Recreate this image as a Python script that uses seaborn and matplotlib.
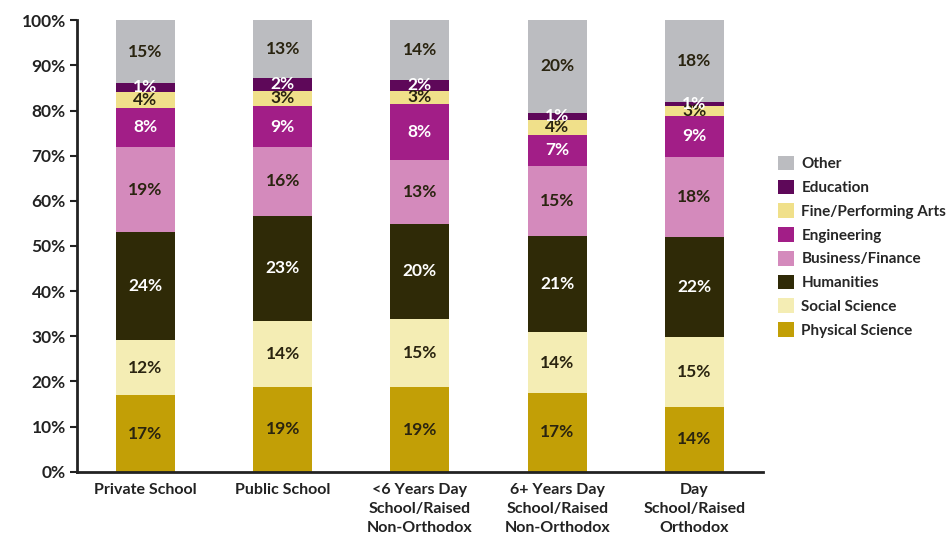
import numpy as np
import pandas as pd
import matplotlib
matplotlib.use("Agg")
import matplotlib.pyplot as plt
from matplotlib.patches import Patch
import seaborn as sns

# 1. --- Data ---
groups = ["Private School", "Public School",
          "<6 Years Day\nSchool/Raised\nNon-Orthodox",
          "6+ Years Day\nSchool/Raised\nNon-Orthodox",
          "Day\nSchool/Raised\nOrthodox"]
fields = ["Physical Science", "Social Science", "Humanities", "Business/Finance",
          "Engineering", "Fine/Performing Arts", "Education", "Other"]

# segment heights as drawn (percent), bottom to top
physical = [16.9, 18.8, 18.7, 17.4, 14.3]
social = [12.2, 14.6, 15.2, 13.5, 15.5]
humanities = [23.9, 23.3, 20.9, 21.4, 22.1]
business = [18.9, 15.2, 14.2, 15.4, 17.8]
engineering = [8.7, 9.1, 12.5, 6.9, 9.1]
fine_arts = [3.6, 3.4, 2.9, 3.3, 2.2]
education = [1.8, 2.9, 2.4, 1.6, 0.9]
other = [14.0, 12.7, 13.2, 20.5, 18.1]

# printed labels
physical_lbl = [17, 19, 19, 17, 14]
social_lbl = [12, 14, 15, 14, 15]
humanities_lbl = [24, 23, 20, 21, 22]
business_lbl = [19, 16, 13, 15, 18]
engineering_lbl = [8, 9, 8, 7, 9]
fine_arts_lbl = [4, 3, 3, 4, 3]
education_lbl = [1, 2, 2, 1, 1]
other_lbl = [15, 13, 14, 20, 18]

colors = ["#C29F06", "#F4EDB4", "#2F2A07", "#D48ABC",
          "#A21E87", "#F0E08A", "#5E0859", "#BBBCC0"]
text_colors = ["#2a2410", "#2a2410", "white", "#2a2410",
               "white", "#2a2410", "white", "#2a2410"]

values = [physical, social, humanities, business, engineering, fine_arts, education, other]
labels = [physical_lbl, social_lbl, humanities_lbl, business_lbl,
          engineering_lbl, fine_arts_lbl, education_lbl, other_lbl]

df = pd.DataFrame(np.array(values).T, columns=fields)
df.insert(0, "group", groups)
cum = df[fields].cumsum(axis=1)

# 2. --- Plot ---
sns.set_style("white")
plt.rcParams["font.family"] = ["Lato", "DejaVu Sans"]
plt.rcParams["font.weight"] = "bold"

fig = plt.figure(figsize=(9.49, 5.46), dpi=100)
ax = fig.add_axes([0.081, 0.136, 0.723, 0.827])

# draw cumulative totals from the top layer down so each covers the ones below
for i in range(len(fields) - 1, -1, -1):
    sns.barplot(x=df["group"], y=cum[fields[i]], order=groups, color=colors[i],
                width=0.43, linewidth=0, saturation=1, ax=ax)

for i, f in enumerate(fields):
    for j in range(len(groups)):
        mid = cum[f].iloc[j] - values[i][j] / 2
        ax.text(j, mid, f"{labels[i][j]}%", ha="center", va="center",
                fontsize=12.5, fontweight="bold", color=text_colors[i])

ax.set_ylim(0, 100)
ax.set_xlim(-0.5, len(groups) - 0.5)
ax.set_yticks(range(0, 101, 10))
ax.set_yticklabels([f"{v}%" for v in range(0, 101, 10)], fontsize=12.5, fontweight="bold", color="#222222")
ax.set_xticks(range(len(groups)))
ax.set_xticklabels(groups, fontsize=11.5, fontweight="bold", color="#222222", linespacing=1.45)
ax.set_xticks(np.arange(-0.5, len(groups), 1), minor=True)
ax.tick_params(axis="x", which="major", length=0, pad=8)
ax.tick_params(axis="x", which="minor", length=7, width=2, direction="out", color="#222222")
ax.tick_params(axis="y", length=5, width=1.5, direction="out", color="#222222", left=True, pad=3)
ax.set_xlabel("")
ax.set_ylabel("")
for s in ["top", "right"]:
    ax.spines[s].set_visible(False)
for s in ["left", "bottom"]:
    ax.spines[s].set_color("#222222")
    ax.spines[s].set_linewidth(2)

handles = [Patch(facecolor=colors[i], edgecolor="none", label=fields[i])
           for i in range(len(fields) - 1, -1, -1)]
fig.legend(handles=handles, loc="center left", bbox_to_anchor=(0.813, 0.548),
           frameon=False, handlelength=1.1, handleheight=1.1,
           handletextpad=0.45, labelspacing=0.54, borderaxespad=0,
           prop={"weight": "bold", "size": 11})

fig.savefig("out.png", dpi=100)
